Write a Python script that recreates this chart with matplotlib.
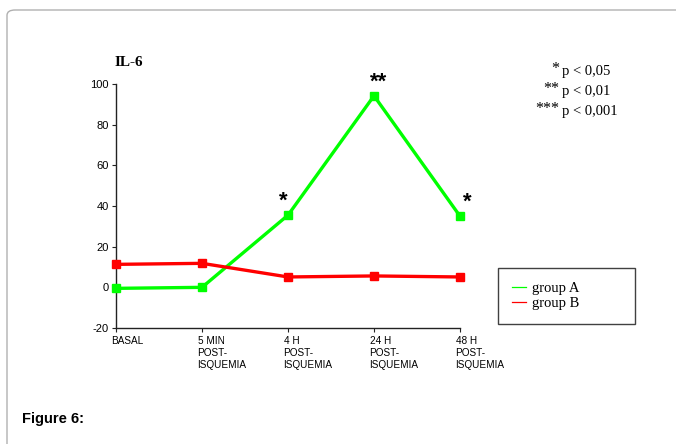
import matplotlib
matplotlib.use("Agg")
import matplotlib.pyplot as plt
from matplotlib.lines import Line2D
from matplotlib.patches import FancyBboxPatch

plt.rcParams["axes.unicode_minus"] = False

# IL-6 time course, two groups
timepoints = ["BASAL", "5 MIN\nPOST-\nISQUEMIA", "4 H\nPOST-\nISQUEMIA",
              "24 H\nPOST-\nISQUEMIA", "48 H\nPOST-\nISQUEMIA"]
group_a = [-0.5, 0.0, 35.5, 94.2, 35.0]
group_b = [11.3, 11.8, 5.1, 5.6, 5.1]
significance = ["", "", "*", "**", "*"]
yticks = [-20, 0, 20, 40, 60, 80, 100]

W, H = 676, 444
fig = plt.figure(figsize=(W / 100, H / 100), dpi=100)
fig.patch.set_facecolor("white")

# rounded outer frame
frame = FancyBboxPatch((7 / W, -0.2), 1.2, 1 - 10 / H + 0.2,
                       boxstyle="round,pad=0,rounding_size=0.012",
                       transform=fig.transFigure, facecolor="none",
                       edgecolor="#b0b0b0", linewidth=1.0, zorder=0)
fig.patches.append(frame)

ax = fig.add_axes([116 / W, 1 - 328 / H, (460 - 116) / W, (328 - 84) / H])
x = list(range(len(timepoints)))
ax.plot(x, group_a, color="#00ff00", lw=2.4, marker="s", ms=5.5,
        zorder=3, clip_on=False)
ax.plot(x, group_b, color="#ff0000", lw=2.4, marker="s", ms=5.5,
        zorder=3, clip_on=False)

ax.set_xlim(0, len(timepoints) - 1)
ax.set_ylim(-20, 100)
ax.set_yticks(yticks)
ax.set_xticks(x)
ax.set_xticklabels([""] * len(x))
# category labels, left-aligned just before each tick
for xi, lab in zip(x, timepoints):
    ax.annotate(lab, xy=(xi, 0), xycoords=("data", "axes fraction"),
                xytext=(-3.2, -5.8), textcoords="offset points",
                ha="left", va="top", fontsize=7.2, family="Liberation Sans",
                linespacing=1.25, annotation_clip=False)
for lbl in ax.get_yticklabels():
    lbl.set_fontsize(8)
    lbl.set_family("Liberation Sans")
ax.tick_params(axis="both", direction="out", length=3, width=0.8,
               color="#222222", pad=2)
for s in ("top", "right"):
    ax.spines[s].set_visible(False)
for s in ("left", "bottom"):
    ax.spines[s].set_linewidth(1.0)
    ax.spines[s].set_color("#222222")

# significance marks above group A
for xi, yi, mark in zip(x, group_a, significance):
    if mark:
        dx = 0.05 if mark == "**" else (-0.06 if xi == 2 else 0.09)
        ax.text(xi + dx, yi + 1.5, mark, ha="center", va="bottom",
                fontsize=16, family="Liberation Sans", fontweight="bold")

fig.text(115 / W, 1 - 62 / H, "IL-6", fontsize=11, fontweight="bold",
         family="Liberation Serif", ha="left", va="center")

# p-value key
keys = [("*", "p < 0,05"), ("**", "p < 0,01"), ("***", "p < 0,001")]
for i, (stars, txt) in enumerate(keys):
    yy = 1 - (71 + i * 20) / H
    fig.text(559 / W, yy + 2 / H, stars, fontsize=11.5, family="Liberation Serif",
             ha="right", va="center")
    fig.text(562 / W, yy, txt, fontsize=10.5, family="Liberation Serif",
             ha="left", va="center")

handles = [Line2D([], [], color="#00ff00", lw=0.9),
           Line2D([], [], color="#ff0000", lw=0.9)]
leg = fig.legend(handles, ["group A", "group B"], loc="upper left",
                 bbox_to_anchor=(498 / W, 1 - 268 / H, (635 - 498) / W, 0),
                 mode="expand",
                 prop={"family": "Liberation Serif", "size": 10.5},
                 frameon=True, fancybox=False, edgecolor="#111111",
                 handlelength=1.0, handletextpad=0.35, labelspacing=0.15,
                 borderpad=0.95, borderaxespad=0)
leg.get_frame().set_linewidth(1.0)

fig.text(22 / W, 1 - 419 / H, "Figure 6:", fontsize=10.5, fontweight="bold",
         family="Liberation Sans", ha="left", va="center")

fig.savefig("out.png", dpi=100)
